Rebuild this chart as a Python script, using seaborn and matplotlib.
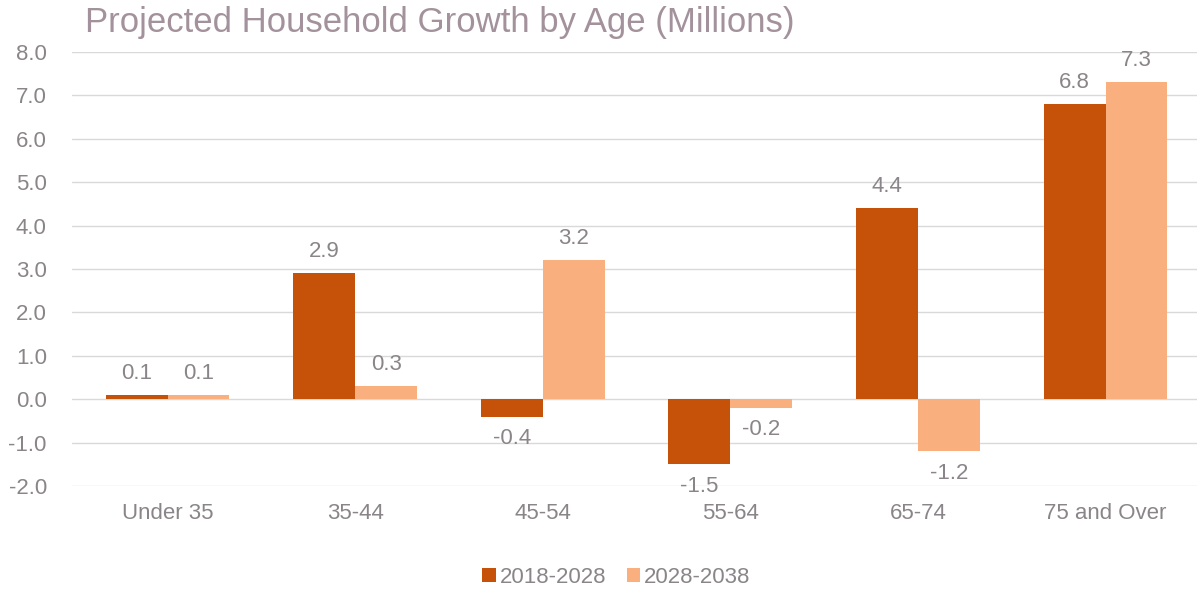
import matplotlib
matplotlib.use("Agg")
import matplotlib.pyplot as plt
import seaborn as sns
import pandas as pd

categories = ["Under 35", "35-44", "45-54", "55-64", "65-74", "75 and Over"]
series_names = ["2018-2028", "2028-2038"]
growth_2018_2028 = [0.1, 2.9, -0.4, -1.5, 4.4, 6.8]
growth_2028_2038 = [0.1, 0.3, 3.2, -0.2, -1.2, 7.3]
y_ticks = [-2.0, -1.0, 0.0, 1.0, 2.0, 3.0, 4.0, 5.0, 6.0, 7.0, 8.0]

colors = ["#C55208", "#FAB07E"]
text_color = "#8A8588"
title_color = "#A3929B"
grid_color = "#D9D9D9"

df = pd.DataFrame({
    "Age": categories * 2,
    "Period": [series_names[0]] * len(categories) + [series_names[1]] * len(categories),
    "Growth": growth_2018_2028 + growth_2028_2038,
})

sns.set_theme(style="white")
plt.rcParams["font.family"] = ["Liberation Sans", "DejaVu Sans"]

fig = plt.figure(figsize=(11.97, 5.90), dpi=100)
ax = fig.add_axes([0.060, 0.176, 0.942, 0.736])

sns.barplot(data=df, x="Age", y="Growth", hue="Period", order=categories,
            hue_order=series_names, palette=colors, width=0.66, gap=0,
            saturation=1, errorbar=None, ax=ax, legend=True, zorder=3,
            linewidth=0, edgecolor="none")

ax.set_ylim(-2.0, 8.0)
ax.set_xlim(-0.51, 5.5)
ax.set_yticks(y_ticks)
ax.set_yticklabels([f"{v:.1f}" for v in y_ticks])
ax.yaxis.grid(True, color=grid_color, linewidth=1.0, zorder=0)
ax.set_axisbelow(True)
for s in ax.spines.values():
    s.set_visible(False)
ax.tick_params(axis="both", length=0, labelsize=16, labelcolor=text_color)
ax.tick_params(axis="x", pad=12)
ax.tick_params(axis="y", pad=18)
ax.set_xlabel("")
ax.set_ylabel("")

for container in ax.containers:
    ax.bar_label(container, labels=[f"{b.get_height():.1f}" for b in container],
                 padding=8, fontsize=16, color=text_color)

handles, labels = ax.get_legend_handles_labels()
ax.legend_.remove()
fig.legend(handles, labels, loc="center", bbox_to_anchor=(0.515, 0.022), ncol=2,
           frameon=False, fontsize=16, labelcolor=text_color, handlelength=0.6,
           handleheight=0.6, handletextpad=0.2, columnspacing=0.9)

fig.text(0.071, 0.962, "Projected Household Growth by Age (Millions)",
         fontsize=25, color=title_color, ha="left", va="center")

fig.savefig("out.png", dpi=100)
